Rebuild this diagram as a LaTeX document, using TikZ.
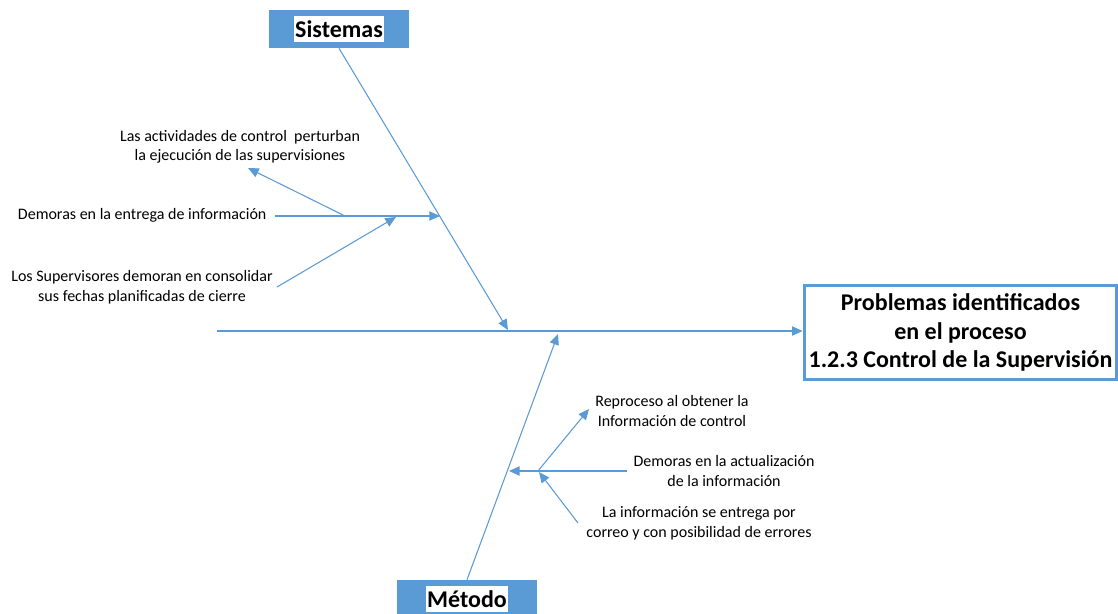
\documentclass[tikz,border=0pt]{standalone}
\usepackage{fontspec}
\setmainfont{Carlito}
\usetikzlibrary{arrows.meta}
\definecolor{officeblue}{HTML}{5B9BD5}
\tikzset{
  bone/.style={draw=officeblue, line width=0.8pt},
  arr/.style={bone, -{Triangle[length=8pt,width=7pt]}},
  cause/.style={font=\fontsize{12}{14.7}\selectfont, align=center, inner sep=1pt},
  catbox/.style={fill=officeblue, minimum width=105pt, minimum height=28.5pt, inner sep=0pt},
  catlabel/.style={fill=white, font=\fontsize{18}{20}\selectfont\bfseries, inner xsep=1pt, inner ysep=3.5pt},
  effectbox/.style={draw=officeblue, line width=2.25pt, fill=white, minimum width=231pt, minimum height=70pt,
    align=center, font=\fontsize{18}{21.5}\selectfont\bfseries}
}
\begin{document}
\begin{tikzpicture}[x=0.75pt,y=-0.75pt]
\useasboundingbox (0,0) rectangle (1118,614);

% effect and categories
\node[effectbox] (effect) at (960.5,332.5) {Problemas identificados\\en el proceso\\1.2.3 Control de la Supervisión};
\node[catbox] (sist) at (339,29) {};
\node[catlabel] at (sist) {Sistemas};
\node[catbox] (met) at (467,599) {};
\node[catlabel] at (met) {Método};

% spine
\coordinate (spineL) at (217,331);
\draw[arr] (spineL) -- (effect.west |- spineL);

% main bones
\coordinate (hs) at (508,330);
\coordinate (hm) at (558,334);
\draw[arr] (sist.south) -- (hs);
\draw[arr] (met.north) -- (hm);

% Sistemas causes
\node[cause] (c1) at (240,147) {Las actividades de control\ \ perturban\\la ejecución de las supervisiones};
\node[cause, anchor=east] (c2) at (268,215) {Demoras en la entrega de información};
\node[cause] (c3) at (142,287) {Los Supervisores demoran en consolidar\\sus fechas planificadas de cierre};
\coordinate (s2a) at (275,216);
\coordinate (s2b) at (440,216);
\coordinate (s1j) at (345,216);
\coordinate (s1t) at (248,168);
\coordinate (s3a) at (277,287);
\coordinate (s3b) at (396,217);
\draw[arr] (s2a) -- (s2b);
\draw[arr] (s1j) -- (s1t);
\draw[arr] (s3a) -- (s3b);

% Metodo causes
\node[cause] (m1) at (672,411) {Reproceso al obtener la\\Información de control};
\node[cause] (m2) at (724,471) {Demoras en la actualización\\de la información};
\node[cause] (m3) at (699,523) {La información se entrega por\\correo y con posibilidad de errores};
\coordinate (m2a) at (627,471);
\coordinate (m2b) at (509,471);
\coordinate (m1j) at (538,471);
\coordinate (m1t) at (589,409);
\coordinate (m3a) at (578,523);
\coordinate (m3b) at (539,472);
\draw[arr] (m2a) -- (m2b);
\draw[arr] (m1j) -- (m1t);
\draw[arr] (m3a) -- (m3b);
\end{tikzpicture}
\end{document}
